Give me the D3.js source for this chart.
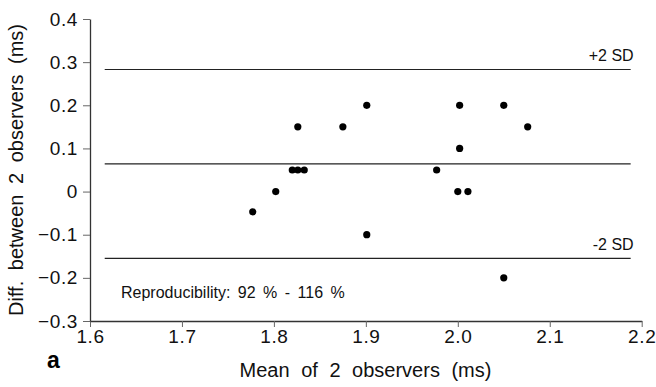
<!DOCTYPE html>
<html>
<head>
<meta charset="utf-8">
<script src="https://cdn.jsdelivr.net/npm/d3@7"></script>
<style>
  body { margin: 0; background: #fff; }
  svg { font-family: "Liberation Sans", Arial, sans-serif; }
</style>
</head>
<body>
<div id="chart"></div>
<script>
// mean of the two observers (ms) and their difference (ms)
const meanVals = [1.777, 1.802, 1.820, 1.826, 1.833, 1.826, 1.875, 1.901, 1.901,
                  1.977, 2.000, 2.002, 2.002, 2.011, 2.050, 2.050, 2.076];
const diffVals = [-0.047, 0, 0.05, 0.05, 0.05, 0.15, 0.15, 0.2, -0.1,
                  0.05, 0, 0.1, 0.2, 0, 0.2, -0.2, 0.15];

// limits of agreement
const limitVals = [0.283, 0.064, -0.155];
const limitLabels = ["+2 SD", "", "-2 SD"];
const limitSpan = [1.616, 2.188];

const xTicks = [1.6, 1.7, 1.8, 1.9, 2.0, 2.1, 2.2];
const yTicks = [-0.3, -0.2, -0.1, 0, 0.1, 0.2, 0.3, 0.4];

const width = 656, height = 387;

const svg = d3.select("#chart")
  .append("svg")
    .attr("width", width)
    .attr("height", height);

const x = d3.scaleLinear().domain([1.6, 2.2]).range([90, 641.7]);
const y = d3.scaleLinear().domain([-0.3, 0.4]).range([321, 19]);

// axes
const xAxis = svg.append("g")
  .attr("transform", "translate(0," + y(-0.3) + ")")
  .call(d3.axisBottom(x).tickValues(xTicks).tickSize(6).tickPadding(3)
    .tickFormat(d3.format(".1f")).tickSizeOuter(0));

const yAxis = svg.append("g")
  .attr("transform", "translate(" + x(1.6) + ",0)")
  .call(d3.axisLeft(y).tickValues(yTicks).tickSize(7).tickPadding(5)
    .tickFormat(d => d === 0 ? "0" : d3.format(".1f")(d)).tickSizeOuter(0));

[xAxis, yAxis].forEach(g => {
  g.select(".domain").attr("stroke", "#333").attr("stroke-width", 1.3);
  g.selectAll(".tick line").attr("stroke", "#666");
  g.selectAll(".tick text")
    .attr("fill", "#111")
    .style("font-size", "19px")
    .style("letter-spacing", "0.6px");
});

// limit lines
svg.append("g")
  .selectAll("line")
  .data(limitVals)
  .enter()
  .append("line")
    .attr("x1", x(limitSpan[0]))
    .attr("x2", x(limitSpan[1]))
    .attr("y1", d => y(d))
    .attr("y2", d => y(d))
    .attr("stroke", "#222")
    .attr("stroke-width", 1.2);

svg.append("g")
  .selectAll("text")
  .data(limitVals)
  .enter()
  .append("text")
    .attr("x", x(limitSpan[1]) + 3)
    .attr("y", d => y(d) - 8)
    .attr("text-anchor", "end")
    .style("font-size", "16px")
    .attr("fill", "#111")
    .text((d, i) => limitLabels[i]);

// points
svg.append("g")
  .selectAll("circle")
  .data(meanVals)
  .enter()
  .append("circle")
    .attr("cx", d => x(d))
    .attr("cy", (d, i) => y(diffVals[i]))
    .attr("r", 3.6)
    .attr("fill", "#000");

// annotation
svg.append("text")
  .attr("x", 121)
  .attr("y", 298)
  .style("font-size", "16px")
  .style("word-spacing", "3px")
  .attr("fill", "#111")
  .text("Reproducibility: 92 % - 116 %");

// axis titles
svg.append("text")
  .attr("x", 365.5)
  .attr("y", 377)
  .attr("text-anchor", "middle")
  .style("font-size", "20px")
  .style("word-spacing", "6px")
  .attr("fill", "#111")
  .text("Mean of 2 observers (ms)");

svg.append("text")
  .attr("transform", "translate(23,170) rotate(-90)")
  .attr("text-anchor", "middle")
  .style("font-size", "20px")
  .style("word-spacing", "5px")
  .attr("fill", "#111")
  .text("Diff. between 2 observers (ms)");

svg.append("text")
  .attr("x", 47)
  .attr("y", 368)
  .style("font-size", "23px")
  .style("font-weight", "bold")
  .attr("fill", "#000")
  .text("a");
</script>
</body>
</html>
